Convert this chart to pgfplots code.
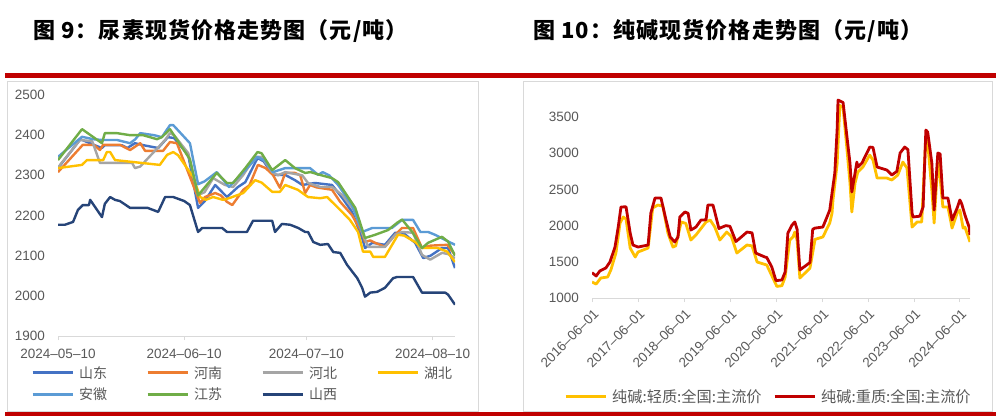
\documentclass[border=0pt]{standalone}
\usepackage{pgfplots}
\pgfplotsset{compat=1.18}
\usepackage{fontspec}
\setmainfont{Liberation Sans}
\newfontfamily\cjk{Noto Sans CJK SC}
\newfontfamily\cjktitle{Noto Sans CJK SC}[LetterSpace=5]

\definecolor{redbar}{HTML}{C00000}
\definecolor{frame}{HTML}{D9D9D9}
\definecolor{ticktxt}{HTML}{595959}
\definecolor{sd}{HTML}{4472C4}
\definecolor{hn}{HTML}{ED7D31}
\definecolor{hb}{HTML}{A5A5A5}
\definecolor{hub}{HTML}{FFC000}
\definecolor{ah}{HTML}{5B9BD5}
\definecolor{js}{HTML}{70AD47}
\definecolor{sx}{HTML}{264478}
\definecolor{light}{HTML}{FFC000}
\definecolor{heavy}{HTML}{C00000}

\newcommand\tickfont{\fontsize{13.5}{13.5}\selectfont}
\newcommand\legfont{\cjk\fontsize{14}{14}\selectfont}
\newcommand\legfontb{\cjk\fontsize{15.2}{15.2}\selectfont}
\newcommand\lt[2]{\makebox[#1][l]{\rule[-4pt]{0pt}{16pt}\hspace{5pt}#2}}

\pgfplotsset{
  panel/.style={
    scale only axis,
    tick align=outside,
    major tick length=4pt,
    ytick style={draw=none},
    xtick style={draw=frame, line width=0.8pt},
    axis x line*=bottom,
    axis y line*=left,
    x axis line style={draw=frame, line width=0.8pt, -},
    y axis line style={draw=none},
    tick label style={font=\tickfont, text=ticktxt},
    /pgf/number format/assume math mode=true,
    /pgf/number format/1000 sep={},
    yticklabel style={anchor=east, inner sep=0pt, xshift=-9pt},
    legend style={draw=none, fill=none, inner sep=0pt, font=\legfont,
      text=ticktxt, cells={anchor=west}, nodes={inner sep=0pt},
      column sep=0pt, row sep=4pt},
    legend image code/.code={\draw[#1, line width=3pt] (0pt,0pt) -- (40pt,0pt);},
  }
}

\begin{document}
\begin{tikzpicture}
\useasboundingbox (0pt,0pt) rectangle (996pt,418pt);
\fill[white] (0pt,0pt) rectangle (996pt,418pt);

% titles and red rules
\node[anchor=west, inner sep=0pt, font=\cjktitle\bfseries\fontsize{22}{22}\selectfont] at (33pt,387pt)
  {图 9：尿素现货价格走势图（元/吨）};
\node[anchor=west, inner sep=0pt, font=\cjktitle\bfseries\fontsize{22}{22}\selectfont] at (533pt,387pt)
  {图 10：纯碱现货价格走势图（元/吨）};
\fill[redbar] (5pt,340pt) rectangle (996pt,345pt);
\fill[redbar] (5pt,2pt) rectangle (996pt,6pt);
\draw[frame] (7pt,7pt) rectangle (478pt,337pt);
\draw[frame] (523pt,7pt) rectangle (992pt,337pt);

% ---------------- urea ----------------
\begin{axis}[panel,
  at={(58pt,82pt)}, anchor=south west,
  width=397pt, height=241pt,
  xmin=0, xmax=97.5, ymin=1900, ymax=2500,
  ytick={1900,2000,...,2500},
  xtick={0,31,61,92},
  xticklabels={2024--05--10,2024--06--10,2024--07--10,2024--08--10},
  xticklabel style={inner sep=0pt, yshift=-9pt},
  legend columns=4,
  legend style={at={(0,0)}, anchor=north west, xshift=-27pt, yshift=-30pt, row sep=8pt},
  every axis plot/.append style={line width=2.4pt, line join=round},
  ]
% 山东
\addplot[sd] coordinates {
(0,2318)(5.5,2390)(9,2375)(10.8,2368)(11.5,2375)(15.7,2375)(17,2368)(18.9,2380)
(21,2375)(24.6,2368)(27,2395)(28.5,2393)(32,2350)(34.4,2219)(36,2235)(38.6,2276)
(41.5,2246)(44.2,2271)(46,2283)(49,2343)(50.5,2335)(52.8,2301)(55.8,2301)(58.2,2288)
(60,2276)(63.1,2281)(67.3,2276)(69.8,2244)(72.2,2209)(74.7,2144)(75.4,2119)(77.2,2132)
(80.3,2127)(82.8,2157)(85,2155)(87.7,2132)(89.7,2094)(91.5,2100)(94.3,2119)(95.8,2119)
(97.5,2069)};
\addlegendentry{\lt{72pt}{山东}}
% 河南
\addplot[hn] coordinates {
(0,2308)(6.1,2376)(8.8,2376)(10.3,2363)(11.1,2376)(15.2,2376)(17.7,2363)(20.2,2380)
(21.4,2361)(25.8,2361)(27.5,2383)(29.2,2380)(34.9,2231)(36.1,2246)(38.6,2256)(40,2250)
(41.5,2234)(42.8,2226)(45.5,2264)(47,2275)(49.1,2326)(51,2318)(52.8,2301)(54.5,2269)
(55.8,2306)(58.2,2306)(59.5,2300)(60.7,2256)(61.9,2276)(63.5,2270)(67.3,2264)(69.3,2234)
(72.2,2201)(74.7,2157)(75.4,2134)(76.7,2138)(77.9,2132)(80.3,2122)(82.8,2152)(84.5,2169)
(87.2,2169)(89.4,2119)(91.5,2125)(95.6,2127)(97.5,2102)};
\addlegendentry{\lt{72pt}{河南}}
% 河北
\addplot[hb] coordinates {
(0,2315)(0.5,2326)(5.4,2388)(8.4,2385)(10.3,2331)(18.2,2331)(18.9,2318)(20.2,2322)
(26.3,2388)(27.5,2405)(28.5,2400)(32,2355)(34.4,2251)(36,2258)(38.1,2293)(41,2276)
(43,2271)(45.5,2301)(48.4,2346)(50,2346)(52.6,2308)(54,2300)(55.8,2308)(60,2300)
(61.4,2281)(64.4,2271)(67.3,2271)(69.8,2251)(73,2209)(74.9,2152)(76.2,2122)(80.3,2122)
(82.8,2152)(84.5,2159)(87.2,2157)(89.4,2102)(91.4,2090)(94.3,2107)(95.8,2104)(97.5,2094)};
\addlegendentry{\lt{72pt}{河北}}
% 湖北
\addplot[hub] coordinates {
(0,2318)(5.9,2326)(7.1,2338)(11.1,2338)(12,2358)(12.8,2358)(14,2338)(25,2326)
(26.8,2351)(28.3,2358)(29.5,2350)(33.2,2296)(34.9,2246)(36.3,2239)(38.1,2246)(40.5,2239)
(42,2243)(45.5,2256)(48.4,2288)(50,2282)(52.6,2259)(54.5,2259)(55.8,2276)(58.9,2264)
(61.4,2246)(64.4,2243)(66.1,2246)(69.3,2214)(71.7,2189)(73.7,2159)(74.9,2110)(76.7,2110)
(77.4,2097)(80.3,2097)(83.5,2152)(85,2150)(87.7,2134)(89.4,2119)(93.3,2119)(95.6,2110)
(97.5,2084)};
\addlegendentry{\lt{50pt}{湖北}}
% 安徽
\addplot[ah] coordinates {
(0,2346)(5.9,2396)(8.6,2390)(10.8,2388)(14.5,2388)(17.7,2380)(19,2390)(20.2,2405)
(23.6,2400)(25.5,2395)(27.5,2425)(28.3,2425)(32.4,2380)(34.4,2278)(36,2285)(39,2308)
(42,2271)(46,2313)(49,2346)(51,2335)(52.8,2308)(55.8,2318)(61.9,2318)(63.9,2301)
(65,2308)(66.6,2300)(68.8,2276)(72.2,2226)(74.7,2159)(77.2,2169)(82,2169)(84.5,2189)
(87.2,2189)(89,2159)(90.9,2159)(92.6,2152)(95.1,2139)(97.5,2127)};
\addlegendentry{\lt{72pt}{安徽}}
% 江苏
\addplot[js] coordinates {
(0,2338)(5.9,2415)(10.8,2380)(11.5,2405)(14.5,2405)(17.7,2400)(20.9,2400)(24.3,2390)
(25.5,2395)(27.5,2415)(32.4,2340)(34.4,2250)(39,2306)(41.5,2281)(43,2281)(46,2318)
(49,2358)(50,2355)(52.6,2313)(55.8,2338)(58.2,2318)(60.7,2306)(62,2308)(64.4,2301)
(67.3,2293)(68.8,2283)(73,2219)(75.4,2144)(77.9,2152)(81.1,2164)(83.3,2182)(84.5,2190)
(87,2159)(89.4,2119)(90.9,2132)(94.3,2147)(95.8,2135)(97.5,2100)};
\addlegendentry{\lt{72pt}{江苏}}
% 山西
\addplot[sx] coordinates {
(0,2177)(1.7,2177)(3.7,2184)(4.9,2214)(6.1,2226)(7.6,2226)(7.9,2239)(10.8,2196)
(11.5,2229)(12.8,2246)(14,2239)(15.2,2236)(17.7,2219)(22,2219)(24.6,2209)(26.3,2246)
(28.3,2246)(31,2236)(32.4,2226)(34.4,2159)(35.4,2169)(40.3,2169)(41.5,2159)(46.4,2159)
(47.9,2187)(52.6,2187)(53.3,2159)(55,2179)(57,2177)(59,2169)(60.7,2159)(61.4,2159)
(62.7,2134)(64.4,2127)(66.3,2129)(67.6,2109)(69.3,2107)(71,2077)(73.5,2044)(74.7,2020)
(75.4,1998)(76.7,2008)(78.4,2010)(80.3,2020)(82.3,2044)(83.3,2047)(87.2,2047)(89.4,2008)
(95.1,2008)(95.8,2003)(97.5,1978)};
\addlegendentry{\lt{72pt}{山西}}
\end{axis}

% ---------------- soda ash (x: year - 2000) ----------------
\begin{axis}[panel,
  at={(592pt,120pt)}, anchor=south west,
  width=378pt, height=202.7pt,
  xmin=16.42, xmax=24.64, ymin=1000, ymax=3800,
  ytick={1000,1500,...,3500},
  xtick={16.42,17.42,18.42,19.42,20.42,21.42,22.42,23.42,24.42},
  xticklabels={2016--06--01,2017--06--01,2018--06--01,2019--06--01,2020--06--01,
    2021--06--01,2022--06--01,2023--06--01,2024--06--01},
  xticklabel style={rotate=45, anchor=east, inner sep=0pt, xshift=-4pt, yshift=-10pt},
  legend columns=2,
  legend style={at={(0,0)}, anchor=north west, xshift=-28pt, yshift=-91pt, font=\legfontb},
  every axis plot/.append style={line width=2.8pt, line join=round},
  ]
% 轻质
\addplot[light] coordinates {
(16.42,1221)(16.51,1193)(16.61,1276)(16.76,1290)(16.83,1387)(16.94,1621)
(17.03,2036)(17.10,2119)(17.16,2090)(17.25,1690)(17.36,1566)(17.42,1635)
(17.64,1690)(17.74,2243)(17.85,2284)(17.96,2270)(18.07,1898)(18.18,1704)
(18.24,1720)(18.36,2050)(18.46,2030)(18.57,1801)(18.68,1870)(18.90,2050)
(18.99,2077)(19.09,1980)(19.20,1801)(19.35,1911)(19.45,1850)(19.57,1621)
(19.79,1732)(19.90,1720)(20.01,1497)(20.22,1456)(20.44,1160)(20.55,1170)
(20.62,1290)(20.72,1801)(20.79,1843)(20.83,1911)(20.88,1800)(20.94,1276)
(21.12,1387)(21.16,1414)(21.27,1810)(21.44,1843)(21.59,2036)(21.64,2174)
(21.66,2354)(21.75,2850)(21.81,3660)(21.88,3630)(21.96,3085)(22.03,2588)
(22.07,2188)(22.14,2588)(22.20,2740)(22.31,2809)(22.46,2975)(22.53,2906)
(22.62,2657)(22.83,2657)(22.94,2630)(23.07,2699)(23.18,2878)(23.27,2795)
(23.38,1980)(23.49,2050)(23.59,2050)(23.68,3224)(23.72,3140)(23.81,2492)
(23.86,2036)(23.92,2671)(23.96,2864)(24.05,2257)(24.16,2257)(24.25,1966)
(24.36,2174)(24.42,2215)(24.49,1966)(24.53,1980)(24.64,1774)};
\addlegendentry{\lt{166pt}{纯碱:轻质:全国:主流价}}
% 重质
\addplot[heavy] coordinates {
(16.42,1350)(16.51,1304)(16.59,1373)(16.72,1414)(16.81,1497)(16.92,1704)
(16.99,1980)(17.05,2257)(17.16,2260)(17.25,1898)(17.31,1732)(17.42,1704)
(17.64,1732)(17.70,2174)(17.79,2381)(17.92,2381)(18.03,2077)(18.12,1843)
(18.22,1774)(18.29,1843)(18.33,2119)(18.44,2188)(18.51,2170)(18.57,1939)
(18.68,1980)(18.79,2077)(18.90,2080)(18.94,2284)(19.05,2284)(19.09,2188)
(19.18,1960)(19.33,2000)(19.42,1990)(19.55,1780)(19.68,1850)(19.79,1911)
(19.90,1900)(19.98,1621)(20.18,1566)(20.22,1560)(20.33,1428)(20.42,1240)
(20.55,1249)(20.62,1359)(20.68,1898)(20.77,2008)(20.83,2050)(20.88,1950)
(20.94,1387)(21.16,1490)(21.22,1950)(21.27,1966)(21.44,1980)(21.53,2119)
(21.59,2215)(21.64,2450)(21.70,2726)(21.75,3320)(21.77,3735)(21.88,3700)
(21.96,3250)(22.03,2864)(22.07,2464)(22.14,2726)(22.18,2878)(22.20,2809)
(22.29,2864)(22.46,3085)(22.53,3080)(22.62,2809)(22.83,2768)(22.94,2699)
(23.05,2750)(23.12,3003)(23.22,3085)(23.29,3050)(23.38,2174)(23.40,2119)
(23.55,2130)(23.62,2257)(23.68,3320)(23.72,3293)(23.81,2864)(23.86,2215)
(23.92,2809)(23.94,3003)(23.99,2990)(24.05,2381)(24.16,2381)(24.25,2077)
(24.36,2243)(24.42,2354)(24.46,2300)(24.53,2146)(24.62,1980)(24.64,1870)};
\addlegendentry{\lt{60pt}{纯碱:重质:全国:主流价}}
\end{axis}
\end{tikzpicture}
\end{document}
